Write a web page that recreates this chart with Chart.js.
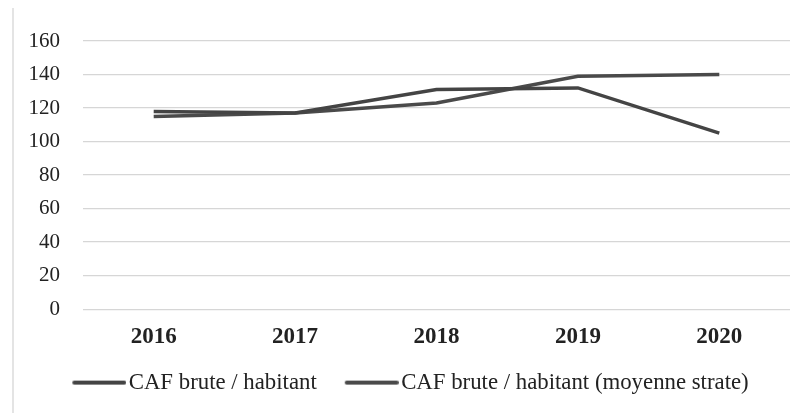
<!DOCTYPE html>
<html>
<head>
<meta charset="utf-8">
<script src="https://cdn.jsdelivr.net/npm/chart.js@4/dist/chart.umd.min.js"></script>
<style>
html,body{margin:0;padding:0;background:#fff;}
#wrap{position:relative;width:808px;height:413px;}
#edge{position:absolute;left:12px;top:8px;width:2px;height:405px;background:#e4e4e4;}
canvas{position:absolute;left:0;top:0;}
</style>
</head>
<body>
<div id="wrap"><div id="edge"></div><canvas id="c" width="808" height="413"></canvas></div>
<script>
const categories = ['2016', '2017', '2018', '2019', '2020'];
const seriesNames = ['CAF brute / habitant', 'CAF brute / habitant (moyenne strate)'];
const cafHabitant = [118, 117, 131, 132, 105];
const cafStrate = [115, 117, 123, 139, 140];
const yTicks = [0, 20, 40, 60, 80, 100, 120, 140, 160];
const lineColors = ['#444444', '#4a4a4a'];

const serif = "'Liberation Serif', 'Times New Roman', serif";

function legendSwatch(color) {
  const c = document.createElement('canvas');
  c.width = 71; c.height = 6;
  const g = c.getContext('2d');
  g.strokeStyle = color;
  g.lineWidth = 4;
  g.lineCap = 'round';
  g.beginPath();
  g.moveTo(19, 3);
  g.lineTo(69, 3);
  g.stroke();
  return c;
}

new Chart(document.getElementById('c'), {
  type: 'line',
  data: {
    labels: categories,
    datasets: [
      { label: seriesNames[0], data: cafHabitant, borderColor: lineColors[0], backgroundColor: lineColors[0], borderWidth: 3.5, pointRadius: 0, tension: 0, pointStyle: legendSwatch(lineColors[0]) },
      { label: seriesNames[1], data: cafStrate, borderColor: lineColors[1], backgroundColor: lineColors[1], borderWidth: 3.5, pointRadius: 0, tension: 0, pointStyle: legendSwatch(lineColors[1]) }
    ]
  },
  options: {
    responsive: false,
    animation: false,
    layout: { padding: { left: 23, right: 18, top: 41, bottom: 9 } },
    plugins: {
      tooltip: { enabled: false },
      legend: {
        position: 'bottom',
        labels: {
          usePointStyle: true,
          pointStyleWidth: 53,
          padding: 20,
          color: '#222',
          font: { family: serif, size: 22.8 }
        }
      }
    },
    scales: {
      x: {
        offset: true,
        grid: { display: false, drawTicks: false },
        border: { display: false },
        ticks: { color: '#222', padding: 14, font: { family: serif, size: 23, weight: 'bold' } },
        afterFit: s => { s.height = 42; }
      },
      y: {
        min: 0, max: 160,
        afterBuildTicks: s => { s.ticks = yTicks.map(v => ({ value: v })); },
        grid: { color: '#d6d6d6', lineWidth: 1.3, drawTicks: false },
        border: { display: false },
        ticks: { color: '#222', padding: 23, font: { family: serif, size: 21 } },
        afterFit: s => { s.width = 60; }
      }
    }
  }
});
</script>
</body>
</html>
